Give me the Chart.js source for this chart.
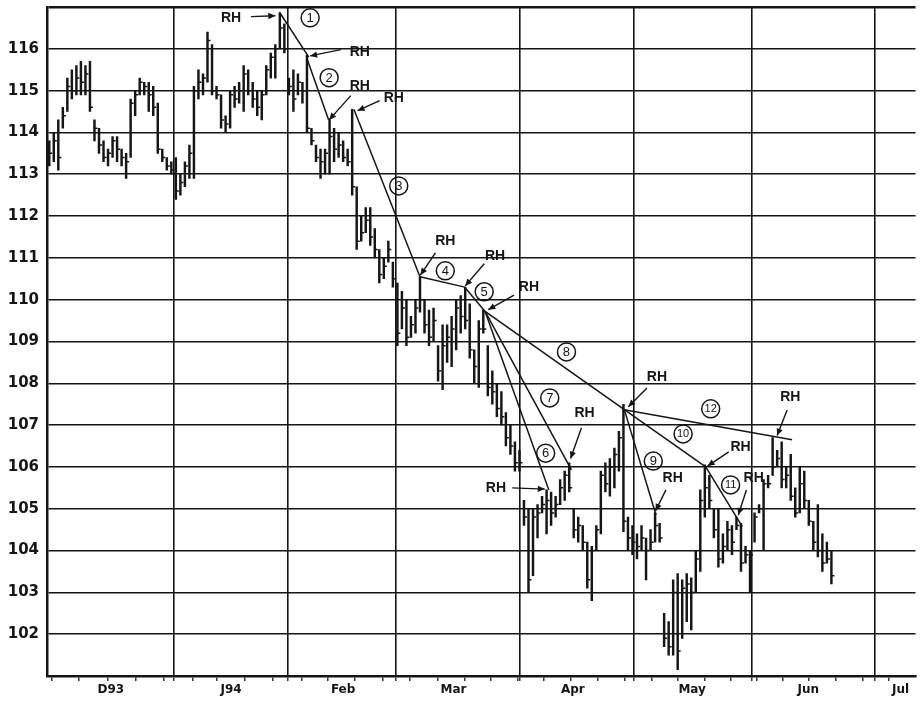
<!DOCTYPE html>
<html>
<head>
<meta charset="utf-8">
<script src="https://cdn.jsdelivr.net/npm/chart.js@4.4.1/dist/chart.umd.min.js"></script>
<style>
  html, body { margin: 0; padding: 0; background: #fff; }
  #wrap { width: 921px; height: 703px; }
</style>
</head>
<body>
<div id="wrap"><canvas id="chart" width="921" height="703"></canvas></div>
<script>
// x = trading day counted from the first bar of Dec 1993
const monthLabels = ['D93', 'J94', 'Feb', 'Mar', 'Apr', 'May', 'Jun', 'Jul'];
const monthMid = [13.6, 40.2, 65.0, 89.4, 115.8, 142.2, 167.9, 188.3];
const monthStart = [27.6, 52.7, 76.6, 104.1, 129.4, 155.5, 182.6];
const weekTicks = [0.6, 6.5, 12.9, 19.1, 25.4, 31.8, 37.1, 43.2, 49.4, 55.8, 61.5, 67.6,
  73.8, 79.7, 85.9, 92.0, 97.7, 103.7, 109.4, 115.3, 121.3, 127.2, 133.3, 139.0,
  145.0, 150.7, 156.6, 162.3, 168.0, 174.0, 179.9, 185.6];

// daily bars (T-bond futures), one value per trading day
const highs = [
  // Dec
  113.8, 114.0, 114.3, 114.6, 115.3, 115.5, 115.6, 115.7, 115.6, 115.7, 114.3, 114.1, 113.8, 113.6,
  113.9, 113.9, 113.6, 113.5, 114.8, 115.0, 115.3, 115.2, 115.2, 115.1, 114.7, 113.6, 113.4, 113.3,
  // Jan
  113.4, 113.0, 113.3, 113.7, 115.1, 115.5, 115.4, 116.4, 116.1, 115.1, 114.9, 114.4, 115.0, 115.1,
  115.2, 115.6, 115.5, 115.2, 115.0, 115.0, 115.6, 115.9, 116.1, 116.85, 116.6,
  // Feb
  115.3, 115.5, 115.4, 115.2, 115.85, 114.1, 113.7, 113.6, 113.6, 114.3, 114.1, 114.0, 113.8, 113.6,
  114.55, 112.7, 112.0, 112.2, 112.2, 111.7, 111.2, 111.0, 111.4, 110.9,
  // Mar
  110.4, 110.2, 110.0, 109.6, 110.0, 110.55, 110.0, 109.75, 109.8, 108.9, 109.4, 109.4, 109.6, 110.0,
  110.1, 110.3, 109.9, 108.8, 109.5, 109.75, 108.9, 108.3, 108.0, 107.8, 107.3, 107.0, 106.6,
  // Apr
  106.4, 105.2, 105.0, 105.0, 105.1, 105.3, 105.45, 105.4, 105.3, 105.7, 105.9, 106.1, 105.0, 104.8,
  104.6, 104.2, 104.1, 104.6, 105.9, 106.1, 106.2, 106.45, 106.85, 107.5, 104.8,
  // May
  104.6, 104.4, 104.6, 104.3, 104.5, 104.9, 104.65, 102.5, 102.3, 103.3, 103.45, 103.3, 103.45, 103.35,
  104.0, 105.45, 106.05, 105.8, 105.0, 105.0, 104.4, 104.7, 104.6, 104.8, 104.65, 104.1,
  // Jun
  104.0, 104.9, 105.1, 105.7, 105.8, 106.7, 106.4, 106.6, 106.0, 106.3, 105.5, 106.0, 105.9, 105.2,
  104.7, 105.1, 104.4, 104.2, 104.0
];
const lows = [
  113.2, 113.3, 113.1, 114.1, 114.5, 114.8, 114.9, 114.9, 114.9, 114.5, 113.8, 113.5, 113.3, 113.2,
  113.4, 113.3, 113.2, 112.9, 113.4, 114.4, 114.9, 114.9, 114.5, 114.4, 113.5, 113.3, 113.1, 113.0,
  112.4, 112.5, 112.7, 112.9, 112.9, 114.8, 114.9, 115.2, 114.9, 114.8, 114.1, 114.0, 114.1, 114.6,
  114.7, 114.5, 114.9, 114.6, 114.4, 114.3, 114.9, 115.3, 115.3, 116.0, 115.9,
  114.9, 114.5, 114.9, 114.7, 114.0, 113.7, 113.3, 112.9, 113.0, 113.0, 113.3, 113.4, 113.3, 113.2,
  112.5, 111.2, 111.4, 111.6, 111.3, 111.0, 110.4, 110.5, 110.9, 110.3,
  108.9, 109.3, 108.9, 109.1, 109.2, 109.7, 109.2, 108.9, 109.0, 108.05, 107.85, 108.5, 108.4, 108.8,
  109.2, 109.3, 108.6, 108.0, 107.9, 109.2, 107.7, 107.5, 107.2, 107.0, 106.5, 106.3, 105.9,
  105.9, 104.6, 103.0, 103.4, 104.3, 104.9, 104.4, 104.6, 104.8, 105.1, 105.2, 105.4, 104.3, 104.2,
  104.0, 103.1, 102.8, 104.0, 104.4, 105.4, 105.3, 105.5, 105.9, 104.45, 104.0,
  103.9, 103.8, 104.0, 103.3, 104.0, 104.2, 104.2, 101.7, 101.5, 101.5, 101.15, 101.9, 102.3, 102.1,
  103.0, 103.5, 104.8, 105.0, 104.3, 103.6, 103.7, 104.0, 103.9, 104.5, 103.5, 103.7,
  103.0, 104.2, 104.9, 104.0, 105.5, 105.8, 106.0, 105.5, 105.5, 105.2, 104.8, 104.9, 105.0, 104.6,
  104.0, 103.85, 103.5, 103.7, 103.2
];
const closes = [
  113.5, 113.8, 113.4, 114.4, 115.1, 115.0, 115.3, 115.2, 115.4, 114.6, 114.1, 113.7, 113.4, 113.5,
  113.8, 113.6, 113.4, 113.3, 114.7, 114.9, 115.2, 115.1, 114.9, 114.6, 113.6, 113.4, 113.2, 113.1,
  112.6, 112.8, 113.2, 113.5, 115.0, 115.2, 115.3, 116.2, 115.0, 114.9, 114.3, 114.2, 114.9, 114.8,
  115.0, 115.4, 115.0, 114.8, 114.6, 114.9, 115.5, 115.8, 116.0, 116.5, 116.0,
  115.1, 114.8, 115.2, 115.0, 114.1, 113.8, 113.4, 113.3, 113.5, 113.9, 113.6, 113.7, 113.4, 113.3,
  112.7, 111.4, 111.6, 111.9, 111.5, 111.2, 110.6, 110.8, 111.2, 110.5,
  109.2, 109.8, 109.1, 109.4, 109.8, 110.0, 109.4, 109.1, 109.5, 108.3, 108.9, 109.1, 109.3, 109.8,
  109.6, 109.5, 108.8, 108.4, 109.3, 109.3, 107.9, 107.8, 107.4, 107.2, 106.7, 106.5, 106.1,
  106.1, 104.8, 103.3, 104.8, 104.9, 105.1, 105.2, 104.9, 105.1, 105.5, 105.8, 105.5, 104.5, 104.6,
  104.2, 103.3, 104.0, 104.5, 105.8, 105.6, 106.0, 106.3, 106.7, 104.7, 104.3,
  104.2, 104.1, 104.3, 104.0, 104.2, 104.6, 104.3, 101.9, 101.7, 103.0, 101.6, 103.1, 103.2, 103.0,
  103.8, 105.2, 105.5, 105.2, 104.5, 103.8, 104.1, 104.5, 104.2, 104.6, 103.7, 103.9,
  103.9, 104.8, 105.0, 105.6, 105.6, 106.0, 106.2, 105.7, 105.8, 105.3, 104.9, 105.6, 105.2, 104.7,
  104.2, 104.0, 103.7, 103.8, 103.4
];

// trend lines: [dayFrom, priceFrom, dayTo, priceTo]
const trendLines = [
  [50.9, 116.88, 57.4, 115.8],
  [56.9, 115.8, 61.8, 114.3],
  [67.4, 114.55, 82.0, 110.55],
  [82.0, 110.55, 91.9, 110.3],
  [91.9, 110.3, 96.4, 109.72],
  [96.4, 109.72, 110.5, 105.45],
  [96.4, 109.72, 115.5, 105.93],
  [96.4, 109.72, 127.2, 107.37],
  [127.2, 107.37, 134.2, 104.85],
  [127.2, 107.37, 145.2, 106.0],
  [145.2, 106.0, 153.3, 104.57],
  [127.2, 107.37, 164.3, 106.65]
];

// "RH" notes: [textDay, textPrice, arrowFromDay, arrowFromPrice, arrowToDay, arrowToPrice]
const rhNotes = [
  [40.2, 116.74, 44.6, 116.77, 50.0, 116.79],
  [68.7, 115.93, 64.5, 115.98, 57.7, 115.83],
  [68.7, 115.11, 66.7, 114.88, 61.9, 114.30],
  [76.2, 114.83, 73.1, 114.76, 68.2, 114.52],
  [87.6, 111.41, 85.4, 111.12, 82.1, 110.59],
  [98.6, 111.05, 96.2, 110.86, 92.0, 110.33],
  [106.1, 110.31, 102.8, 110.11, 97.1, 109.76],
  [118.4, 107.29, 117.7, 106.93, 115.3, 106.20],
  [98.8, 105.50, 102.4, 105.50, 109.6, 105.47],
  [134.4, 108.15, 132.2, 107.89, 128.1, 107.44],
  [137.9, 105.73, 136.4, 105.45, 134.1, 104.95],
  [152.9, 106.48, 150.3, 106.36, 145.6, 106.02],
  [155.8, 105.73, 154.2, 105.45, 152.4, 104.85],
  [163.9, 107.67, 163.2, 107.36, 161.0, 106.75]
];

// circled line numbers: [label, day, price]
const circleNotes = [
  ['1', 57.7, 116.74], ['2', 61.9, 115.31], ['3', 77.3, 112.72], ['4', 87.6, 110.69],
  ['5', 96.2, 110.19], ['6', 109.8, 106.33], ['7', 110.7, 107.65], ['8', 114.4, 108.75],
  ['9', 133.6, 106.14], ['10', 140.2, 106.79], ['11', 150.7, 105.57], ['12', 146.3, 107.39]
];

const ink = '#151515';
const days = highs.map((h, i) => i);

const annotate = {
  id: 'annotate',
  afterDatasetsDraw(chart) {
    const { ctx, scales: { x, y } } = chart;
    ctx.save();
    ctx.strokeStyle = ink;
    ctx.fillStyle = ink;
    ctx.textAlign = 'center';
    ctx.textBaseline = 'middle';

    rhNotes.forEach(([tx, ty, ax, ay, bx, by]) => {
      ctx.font = 'bold 14px "Liberation Sans", Arial, sans-serif';
      ctx.fillText('RH', x.getPixelForValue(tx), y.getPixelForValue(ty));
      const x1 = x.getPixelForValue(ax), y1 = y.getPixelForValue(ay);
      const x2 = x.getPixelForValue(bx), y2 = y.getPixelForValue(by);
      ctx.lineWidth = 1.4;
      ctx.beginPath();
      ctx.moveTo(x1, y1);
      ctx.lineTo(x2, y2);
      ctx.stroke();
      const a = Math.atan2(y2 - y1, x2 - x1);
      ctx.beginPath();
      ctx.moveTo(x2, y2);
      ctx.lineTo(x2 - 7 * Math.cos(a) + 3.2 * Math.sin(a), y2 - 7 * Math.sin(a) - 3.2 * Math.cos(a));
      ctx.lineTo(x2 - 7 * Math.cos(a) - 3.2 * Math.sin(a), y2 - 7 * Math.sin(a) + 3.2 * Math.cos(a));
      ctx.closePath();
      ctx.fill();
    });

    circleNotes.forEach(([label, cx, cy]) => {
      const px = x.getPixelForValue(cx), py = y.getPixelForValue(cy);
      ctx.lineWidth = 1.5;
      ctx.beginPath();
      ctx.arc(px, py, 9, 0, Math.PI * 2);
      ctx.stroke();
      ctx.font = (label.length > 1 ? '11px' : '13px') + ' "Liberation Sans", Arial, sans-serif';
      ctx.fillText(label, px, py + 0.5);
    });
    ctx.restore();
  }
};

new Chart(document.getElementById('chart'), {
  type: 'bar',
  data: {
    datasets: [
      {
        type: 'bar',
        data: days.map(i => ({ x: i, y: [lows[i], highs[i]] })),
        backgroundColor: ink,
        borderWidth: 0,
        barThickness: 1.8,
        grouped: false,
        order: 3
      },
      {
        type: 'line',
        data: days.map(i => ({ x: i, y: closes[i] })),
        showLine: false,
        pointStyle: 'dash',
        pointRadius: 3,
        pointBorderWidth: 1.5,
        pointBorderColor: ink,
        order: 2
      },
      ...trendLines.map(t => ({
        type: 'line',
        data: [{ x: t[0], y: t[1] }, { x: t[2], y: t[3] }],
        borderColor: ink,
        borderWidth: 1.5,
        pointRadius: 0,
        order: 1
      }))
    ]
  },
  options: {
    responsive: false,
    animation: false,
    events: [],
    layout: { padding: { top: 7, left: 0, right: 0, bottom: 0 } },
    plugins: { legend: { display: false }, tooltip: { enabled: false } },
    scales: {
      x: {
        type: 'linear',
        min: -0.5,
        max: 191.6,
        offset: false,
        afterBuildTicks: s => {
          s.ticks = [...monthStart, ...weekTicks, ...monthMid].sort((a, b) => a - b).map(v => ({ value: v }));
        },
        afterFit: s => { s.height = 27; s.paddingLeft = 0; s.paddingRight = 0; },
        grid: {
          offset: false,
          color: c => monthStart.includes(c.tick && c.tick.value) ? ink : 'rgba(0,0,0,0)',
          tickColor: c => monthMid.includes(c.tick && c.tick.value) ? 'rgba(0,0,0,0)' : ink,
          lineWidth: 1.6,
          tickLength: 5,
          tickWidth: 1.3
        },
        border: { color: ink, width: 2.5 },
        ticks: {
          autoSkip: false,
          maxRotation: 0,
          padding: 2,
          color: ink,
          font: { family: '"DejaVu Sans", sans-serif', weight: 'bold', size: 12 },
          callback: v => {
            const k = monthMid.indexOf(v);
            return k < 0 ? '' : monthLabels[k];
          }
        }
      },
      y: {
        min: 101,
        max: 117,
        afterFit: s => { s.width = 47; s.paddingTop = 0; s.paddingBottom = 0; },
        grid: {
          color: ink,
          lineWidth: c => (c.tick && c.tick.value === 117) ? 2.5 : 1.6,
          drawTicks: false
        },
        border: { color: ink, width: 2.5 },
        ticks: {
          stepSize: 1,
          padding: 8,
          color: ink,
          font: { family: '"DejaVu Sans", sans-serif', weight: 'bold', size: 15 },
          callback: v => (v === 101 || v === 117) ? '' : v
        }
      }
    }
  },
  plugins: [annotate]
});
</script>
</body>
</html>
